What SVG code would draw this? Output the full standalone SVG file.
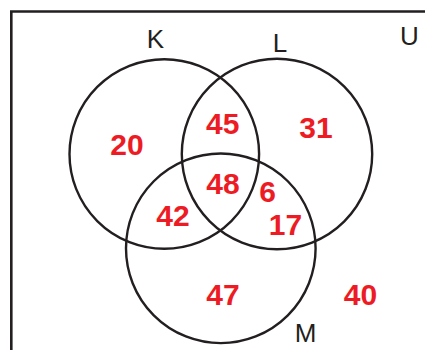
<svg xmlns="http://www.w3.org/2000/svg" width="425" height="350" viewBox="0 0 425 350">
<style>
.c{fill:none;stroke:#231f20;stroke-width:2.4}
.lbl{font-family:"Liberation Sans",Arial,sans-serif;font-size:26px;fill:#231f20;text-anchor:middle}
.n{font-family:"Liberation Sans",Arial,sans-serif;font-size:30px;font-weight:bold;fill:#ed1c24;text-anchor:middle}
</style>
<rect width="425" height="350" fill="#ffffff"/>
<g id="universe">
<path d="M11.3 352 V11.5 H427" fill="none" stroke="#231f20" stroke-width="2.6"/>
<text class="lbl" x="409.5" y="45">U</text>
</g>
<g id="setK">
<circle class="c" cx="164.3" cy="154" r="94.8"/>
<text class="lbl" x="155.5" y="48.3">K</text>
</g>
<g id="setL">
<circle class="c" cx="277" cy="154" r="95.2"/>
<text class="lbl" x="280" y="51.5">L</text>
</g>
<g id="setM">
<circle class="c" cx="220.8" cy="248.3" r="94.8"/>
<text class="lbl" x="305.5" y="341.5">M</text>
</g>
<g id="values">
<text class="n" x="127" y="155">20</text>
<text class="n" x="222.7" y="134">45</text>
<text class="n" x="316" y="138">31</text>
<text class="n" x="223" y="194">48</text>
<text class="n" x="267.7" y="202">6</text>
<text class="n" x="173" y="226">42</text>
<text class="n" x="285.5" y="235">17</text>
<text class="n" x="223" y="305">47</text>
<text class="n" x="360.5" y="305">40</text>
</g>
</svg>
